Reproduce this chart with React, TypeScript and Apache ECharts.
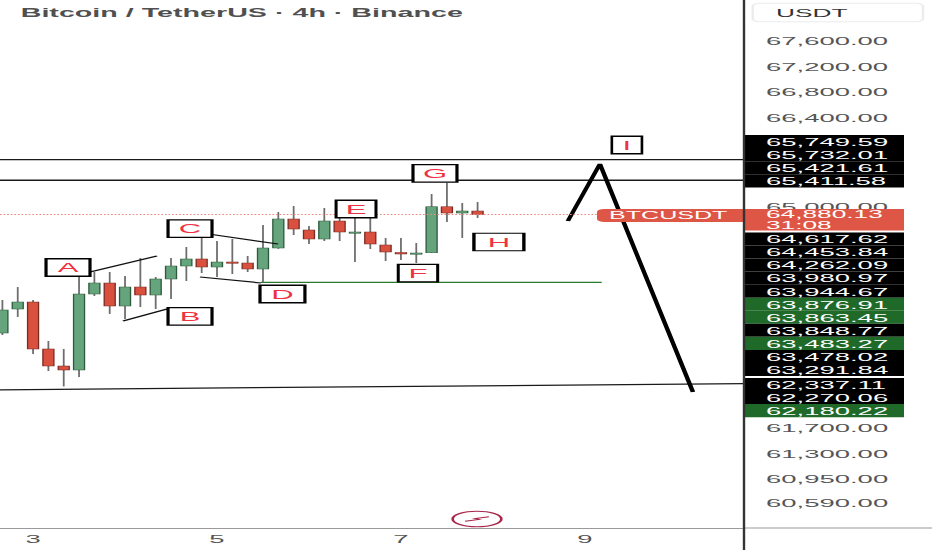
import React, { useEffect, useRef } from "react";
import * as echarts from "echarts";

// ---------- data ----------
const dayTickIndex = [2, 14, 26, 38];
const dayTickLabels = ["3", "5", "7", "9"];
const priceTicks = [67600, 67200, 66800, 66400, 65000];
const lowerScaleLabels = ["61,700.00", "61,300.00", "60,950.00", "60,590.00"];

// open, close, low, high  (4h candles)
const candles: [number, number, number, number][] = [
  [63019, 63380, 62987, 63537],
  [63395, 63505, 63270, 63741],
  [63505, 62768, 62689, 63537],
  [62768, 62501, 62422, 62893],
  [62501, 62438, 62180, 62768],
  [62438, 63631, 62328, 63914],
  [63631, 63804, 63600, 63976],
  [63804, 63443, 63317, 63976],
  [63443, 63741, 63239, 63914],
  [63741, 63615, 63427, 64196],
  [63615, 63867, 63396, 63898],
  [63867, 64071, 63553, 64196],
  [64071, 64181, 63835, 64369],
  [64181, 64055, 63961, 64510],
  [64055, 64133, 63898, 64463],
  [64133, 64126, 63945, 64495],
  [64118, 64024, 63976, 64228],
  [64024, 64353, 63819, 64714],
  [64353, 64808, 64340, 64918],
  [64808, 64651, 64557, 65013],
  [64636, 64495, 64416, 64699],
  [64495, 64777, 64463, 64981],
  [64777, 64604, 64463, 64856],
  [64597, 64604, 64133, 64887],
  [64604, 64416, 64337, 64824],
  [64400, 64290, 64149, 64510],
  [64283, 64259, 64165, 64510],
  [64259, 64275, 64118, 64432],
  [64279, 65002, 64275, 65201],
  [65000, 64902, 64761, 65374],
  [64902, 64934, 64510, 65060],
  [64934, 64880.13, 64824, 65075],
];
const lastClose = 64880.13;

const resistanceLevels = [65741, 65417];
const supportLine: [number, number][] = [[-0.157, 62127], [48.38, 62223]];
const greenLevel: [number, number][] = [[16.87, 63812], [39.1, 63812]];
const connectorA: [number, number][] = [[5.71, 63976], [10.08, 64228]];
const connectorB: [number, number][] = [[7.87, 63207], [10.74, 63395]];
const connectorC: [number, number][] = [[13.67, 64565], [17.98, 64416]];
const connectorD: [number, number][] = [[12.89, 63898], [16.87, 63804]];
const projection: [number, number][] = [[36.89, 64777], [38.98, 65672], [45.05, 62092]];

const waveLabels = ["A", "B", "C", "D", "E", "F", "G", "H", "I"];
const waveLabelX = [4.28, 12.24, 12.24, 18.27, 23.07, 27.11, 28.22, 32.39, 40.74];
const waveLabelPrice = [64047, 63278, 64659, 63631, 64965, 63960, 65523, 64447, 65970];

const upperTags = ["65,749.59", "65,732.01", "65,421.61", "65,411.58"];
const lowerTags = [
  "64,617.62", "64,453.84", "64,262.09", "63,980.97", "63,944.67", "63,876.91", "63,863.45",
  "63,848.77", "63,483.27", "63,478.02", "63,291.84", "62,337.11", "62,270.06", "62,180.22",
];
const countdown = "31:08";
const titleText = "Bitcoin / TetherUS · 4h · Binance";
const symbolText = "BTCUSDT";
const currencyText = "USDT";

// ---------- layout / style ----------
const S = 932 / 390; // horizontal stretch of the screenshot
const W = 390;
const H = 550;
const PLOT_RIGHT = 744 / S;
const AXIS_Y = 528;
const X_MIN = -0.157;
const X_MAX = 48.38;
const Y_MAX = 68246.8;
const Y_MIN = Y_MAX - 15.7 * AXIS_Y;
const FONT = '"Liberation Sans", Arial, sans-serif';
const GREEN_FILL = "#66a47d";
const GREEN_BORDER = "#2c5b3b";
const RED_FILL = "#d9503f";
const RED_BORDER = "#7a2a22";
const WICK = "#6e6e6e";
const TAG_GREEN = "#1f6a29";
const TAG_RED = "#de5646";
const GREEN_TAGS = new Set(["63,876.91", "63,863.45", "63,483.27", "62,180.22"]);
const BOX_W: Record<string, number> = {
  A: 18.4, B: 18.4, C: 18.4, D: 18.8, E: 16.7, F: 16.5, G: 18.4, H: 20.9, I: 12.6,
};

const fmt = (v: number) =>
  v.toLocaleString("en-US", { minimumFractionDigits: 2, maximumFractionDigits: 2 });

function lineSeries(data: [number, number][], color: string, width: number, z = 3) {
  return {
    type: "line",
    data,
    symbol: "none",
    showSymbol: false,
    silent: true,
    z,
    lineStyle: { color, width },
  };
}

function buildOption() {
  return {
    animation: false,
    grid: { left: 0, right: W - PLOT_RIGHT, top: 0, bottom: H - AXIS_Y },
    xAxis: {
      type: "value",
      min: X_MIN,
      max: X_MAX,
      axisLine: { show: true, onZero: false, lineStyle: { color: "#9a9a9a", width: 1 } },
      axisTick: { show: false },
      splitLine: { show: false },
      axisLabel: {
        customValues: dayTickIndex,
        formatter: (v: number) => {
          const k = dayTickIndex.indexOf(Math.round(v));
          return k >= 0 ? dayTickLabels[k] : "";
        },
        color: "#555",
        fontSize: 11.5,
        fontFamily: FONT,
        margin: 5,
      },
    },
    yAxis: {
      type: "value",
      position: "right",
      min: Y_MIN,
      max: Y_MAX,
      scale: true,
      axisLine: { show: false },
      axisTick: { show: false },
      splitLine: { show: false },
      axisLabel: {
        customValues: priceTicks,
        formatter: (v: number) => fmt(v),
        color: "#555",
        fontSize: 11.5,
        fontFamily: FONT,
        margin: 9.2,
        align: "left",
      },
    },
    series: [
      ...resistanceLevels.map((lv) =>
        lineSeries([[X_MIN, lv], [X_MAX, lv]], "#1a1a1a", 1.3)
      ),
      lineSeries(supportLine, "#1a1a1a", 1.3),
      lineSeries(greenLevel, "#2a7a30", 1.2),
      lineSeries(connectorA, "#111", 1.2),
      lineSeries(connectorB, "#111", 1.2),
      lineSeries(connectorC, "#111", 1.2),
      lineSeries(connectorD, "#111", 1.2),
      lineSeries(projection, "#000", 1.9, 4),
      {
        type: "custom",
        z: 2,
        silent: true,
        data: candles.map((c, i) => [i, c[0], c[1], c[2], c[3]]),
        encode: { x: 0, y: [1, 2, 3, 4] },
        renderItem: (params: any, api: any) => {
          const x = api.value(0);
          const o = api.value(1);
          const c = api.value(2);
          const l = api.value(3);
          const h = api.value(4);
          const pO = api.coord([x, o]);
          const pC = api.coord([x, c]);
          const pL = api.coord([x, l]);
          const pH = api.coord([x, h]);
          const up = c >= o;
          const w = 4.6;
          const top = Math.min(pO[1], pC[1]);
          const bh = Math.max(Math.abs(pO[1] - pC[1]), 1.2);
          return {
            type: "group",
            children: [
              {
                type: "line",
                shape: { x1: pO[0], y1: pH[1], x2: pO[0], y2: pL[1] },
                style: { stroke: WICK, lineWidth: 0.75 },
              },
              {
                type: "rect",
                shape: { x: pO[0] - w / 2, y: top, width: w, height: bh },
                style: {
                  fill: up ? GREEN_FILL : RED_FILL,
                  stroke: up ? GREEN_BORDER : RED_BORDER,
                  lineWidth: 0.55,
                },
              },
            ],
          };
        },
        markLine: {
          silent: true,
          symbol: ["none", "none"],
          label: { show: false },
          lineStyle: { color: "#ee8a80", type: [0.7, 0.8], width: 1 },
          data: [{ yAxis: lastClose }],
        },
      },
      {
        type: "scatter",
        z: 10,
        silent: true,
        symbol: "rect",
        data: waveLabels.map((n, i) => ({
          name: n,
          value: [waveLabelX[i], waveLabelPrice[i]],
          symbolSize: [BOX_W[n], 17.5],
        })),
        itemStyle: { color: "#fff", borderColor: "#000", borderWidth: 1.3, opacity: 1 },
        label: {
          show: true,
          position: "inside",
          formatter: "{b}",
          color: "#f0313f",
          fontSize: 13,
          fontFamily: FONT,
        },
      },
    ],
  };
}

function text(x: number, y: number, t: string, fill: string, font: string, z = 120) {
  return {
    type: "text",
    x,
    y,
    z,
    silent: true,
    style: {
      text: t,
      fill,
      font,
      align: "left",
      verticalAlign: "middle",
      textAlign: "left",
      textVerticalAlign: "middle",
    },
  };
}

function buildGraphic(py: number) {
  const els: any[] = [];
  const tagLeft = 745 / S;
  const tagRight = 904 / S;
  const tagTextX = 766 / S;
  const tagFont = `11.5px ${FONT}`;
  const rowH = 13.1;

  // title
  els.push(text(20.7 / S, 13, titleText, "#505050", `bold 12px ${FONT}`));

  // USDT box
  els.push({
    type: "rect",
    z: 110,
    silent: true,
    shape: { x: 752.7 / S, y: 3.3, width: (923 - 752.7) / S, height: 18.4, r: 3 },
    style: { fill: "#fff", stroke: "#ececec", lineWidth: 1 },
  });
  els.push(text(776 / S, 12.8, currencyText, "#333", `11px ${FONT}`));

  // upper stacked tags
  upperTags.forEach((t, k) => {
    const top = 135 + k * rowH;
    els.push({
      type: "rect",
      z: 110,
      silent: true,
      shape: { x: tagLeft, y: top, width: tagRight - tagLeft, height: rowH },
      style: { fill: "#000" },
    });
    els.push(text(tagTextX, top + rowH / 2 + 0.5, t, "#fff", tagFont));
  });

  // current price tag (panel) + symbol tag (plot)
  const redTop = py - 5.5;
  els.push({
    type: "rect",
    z: 110,
    silent: true,
    shape: { x: tagLeft, y: redTop, width: tagRight - tagLeft, height: 21.5 },
    style: { fill: TAG_RED },
  });
  els.push(text(tagTextX, redTop + 5.6, fmt(lastClose), "#fff", `11px ${FONT}`));
  els.push(text(tagTextX, redTop + 16.2, countdown, "#fff", `11px ${FONT}`));
  els.push({
    type: "rect",
    z: 110,
    silent: true,
    shape: { x: 597 / S, y: redTop, width: PLOT_RIGHT - 597 / S, height: 13, r: [3, 0, 0, 3] },
    style: { fill: TAG_RED },
  });
  els.push(text(609 / S, redTop + 6.8, symbolText, "#fff", `10.5px ${FONT}`));

  // lower stacked tags
  lowerTags.forEach((t, k) => {
    const top = redTop + 23.5 + k * 13.05 + (k >= 11 ? 2 : 0);
    els.push({
      type: "rect",
      z: 110,
      silent: true,
      shape: { x: tagLeft, y: top, width: tagRight - tagLeft, height: 13.05 },
      style: { fill: GREEN_TAGS.has(t) ? TAG_GREEN : "#000" },
    });
    els.push(text(tagTextX, top + 6.8, t, "#fff", tagFont));
  });

  // lower scale labels
  const lowerY = [428, 454, 479, 503];
  lowerScaleLabels.forEach((t, k) => {
    els.push(text(tagTextX, lowerY[k], t, "#555", tagFont));
  });

  // separator and axis extension
  els.push({
    type: "line",
    z: 130,
    silent: true,
    shape: { x1: PLOT_RIGHT, y1: 0, x2: PLOT_RIGHT, y2: H },
    style: { stroke: "#333", lineWidth: 1 },
  });
  els.push({
    type: "line",
    z: 105,
    silent: true,
    shape: { x1: PLOT_RIGHT, y1: AXIS_Y, x2: W, y2: AXIS_Y },
    style: { stroke: "#9a9a9a", lineWidth: 1 },
  });

  // logo
  const cx = 477 / S;
  const cy = 519;
  els.push({
    type: "ellipse",
    z: 120,
    silent: true,
    shape: { cx, cy, rx: 10.2, ry: 7.8 },
    style: { fill: "#fff", stroke: "#a8284c", lineWidth: 1.1 },
  });
  els.push({
    type: "polyline",
    z: 121,
    silent: true,
    shape: {
      points: [
        [cx - 5, cy + 2.2],
        [cx + 0.8, cy + 0.4],
        [cx - 0.8, cy - 0.4],
        [cx + 5, cy - 2.2],
      ],
    },
    style: { stroke: "#a8284c", lineWidth: 1, fill: "none" },
  });

  return els;
}

export default function App() {
  const ref = useRef<HTMLDivElement>(null);
  useEffect(() => {
    const el = ref.current;
    if (!el) return;
    const chart = echarts.init(el, null, { renderer: "svg", width: W, height: H });
    chart.setOption(buildOption() as any);
    const py = chart.convertToPixel({ yAxisIndex: 0 }, lastClose) as unknown as number;
    chart.setOption({ graphic: buildGraphic(typeof py === "number" ? py : 214.4) } as any);
    return () => chart.dispose();
  }, []);
  return (
    <div
      ref={ref}
      style={{
        position: "absolute",
        left: 0,
        top: 0,
        width: W,
        height: H,
        background: "#fff",
        transform: `scaleX(${S})`,
        transformOrigin: "0 0",
      }}
    />
  );
}
